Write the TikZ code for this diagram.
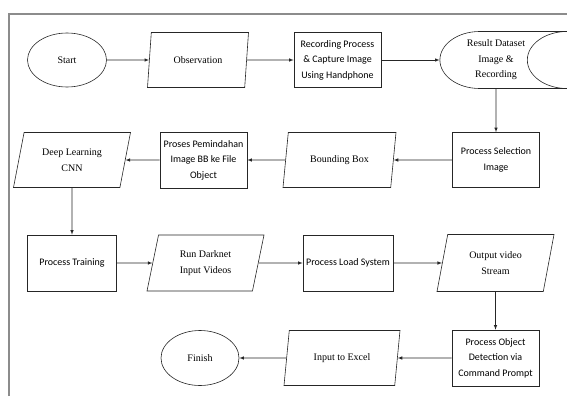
\documentclass[tikz,border=0pt]{standalone}
\usepackage{fontspec}
\setmainfont{Liberation Serif}
\newfontfamily\calibri{Carlito}
\usetikzlibrary{shapes.geometric}

\tikzset{
	base/.style={draw=black!85, line width=0.6pt, align=center, inner sep=2pt, font=\fontsize{10}{15.5}\selectfont},
	term/.style={base, ellipse, minimum width=79pt, minimum height=54pt},
	io/.style={base, trapezium, trapezium left angle=68, trapezium right angle=112, trapezium stretches body, minimum width=117pt, minimum height=55pt},
	proc/.style={base, rectangle, minimum width=87pt, minimum height=55pt, font=\calibri\fontsize{10}{15.5}\selectfont},
	store/.style={base, cylinder, shape aspect=1.8, minimum width=57pt, minimum height=133pt},
	arr/.style={-latex, line width=0.6pt, black!85},
}

\begin{document}
\begin{tikzpicture}[x=1pt, y=-1pt]
	\useasboundingbox (0,0) rectangle (567,396);
	% frame
	\draw[black!45, line width=1.3pt] (9,396) -- (9,14) -- (567,14);
	% row 1
	\node[term] (start) at (67,60) {Start};
	\node[io, minimum width=101pt, trapezium left angle=71, trapezium right angle=109] (obs) at (198,60) {Observation};
	\node[proc] (rec) at (337.5,60) {Recording Process\\ \& Capture Image\\ Using Handphone};
	\node[store] (res) at (496,60) {Result Dataset\\ Image \&\\ Recording};
	% row 2
	\node[proc] (sel) at (496,160) {Process Selection\\ Image};
	\node[io, minimum width=113pt] (bb) at (339.5,160) {Bounding Box};
	\node[proc, minimum height=56pt] (pindah) at (203.5,160) {Proses Pemindahan\\ Image BB ke File\\ Object};
	\node[io] (cnn) at (72,160) {Deep Learning\\ CNN};
	% row 3
	\node[proc, minimum width=89pt, minimum height=56pt] (train) at (72,263) {Process Training};
	\node[io, minimum height=56pt] (run) at (205.5,263) {Run Darknet\\ Input Videos};
	\node[proc, minimum width=90pt, minimum height=56pt] (load) at (348,263) {Process Load System};
	\node[io, minimum height=57pt] (out) at (495.5,263) {Output video\\ Stream};
	% row 4
	\node[proc, minimum height=56pt] (det) at (495.5,358) {Process Object\\ Detection via\\ Command Prompt};
	\node[io, minimum width=116pt] (xls) at (342,358) {Input to Excel};
	\node[term, minimum width=78pt, minimum height=55pt] (finish) at (200,358) {Finish};
	% arrows
	\draw[arr] (start) -- (obs);
	\draw[arr] (obs) -- (rec);
	\draw[arr] (rec) -- (res);
	\draw[arr] (res) -- (sel);
	\draw[arr] (sel) -- (bb);
	\draw[arr] (bb) -- (pindah);
	\draw[arr] (pindah) -- (cnn);
	\draw[arr] (cnn) -- (train);
	\draw[arr] (train) -- (run);
	\draw[arr] (run) -- (load);
	\draw[arr] (load) -- (out);
	\draw[arr] (out) -- (det);
	\draw[arr] (det) -- (xls);
	\draw[arr] (xls) -- (finish);
\end{tikzpicture}
\end{document}
